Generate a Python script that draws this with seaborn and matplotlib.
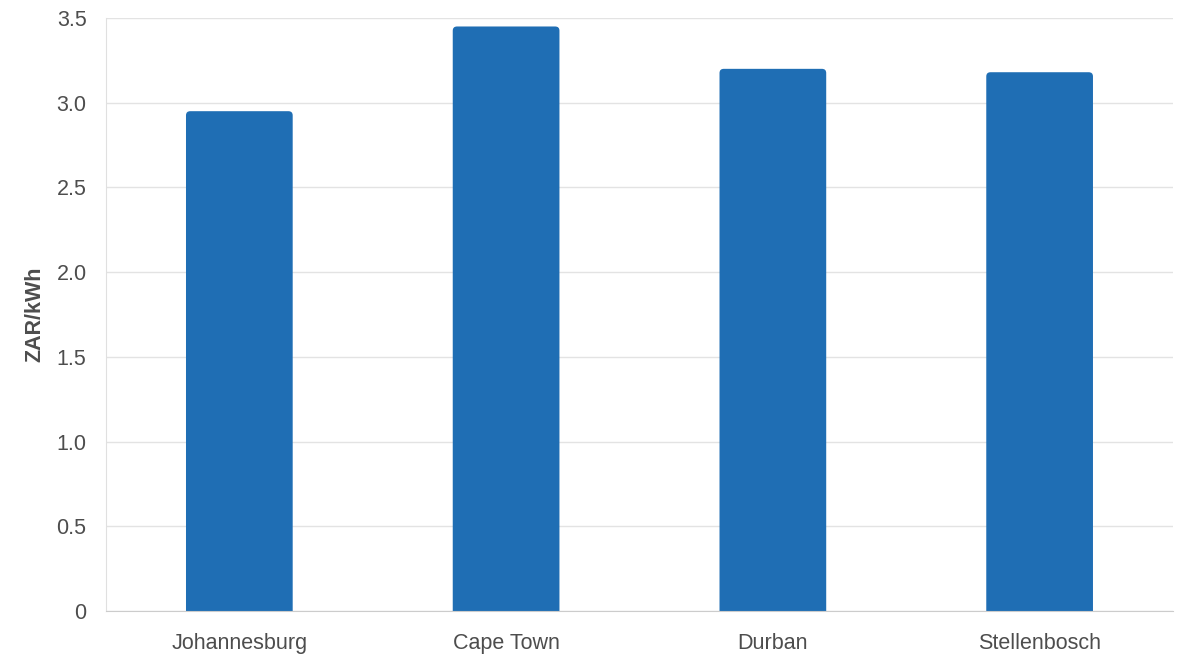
import matplotlib
matplotlib.use("Agg")
import matplotlib.pyplot as plt
import seaborn as sns
import pandas as pd
from matplotlib.patches import FancyBboxPatch
from matplotlib.ticker import FuncFormatter

# -----------------------------
# Data
# -----------------------------
cities = ["Johannesburg", "Cape Town", "Durban", "Stellenbosch"]
tariff = [2.95, 3.45, 3.20, 3.18]
y_ticks = [0, 0.5, 1.0, 1.5, 2.0, 2.5, 3.0, 3.5]

df = pd.DataFrame({"City": cities, "ZAR/kWh": tariff})

# -----------------------------
# Style
# -----------------------------
sns.set_style("white")
plt.rcParams["font.family"] = ["Liberation Sans", "DejaVu Sans"]
text_col = "#4d4d4d"
bar_col = "#1f6eb4"

fig = plt.figure(figsize=(12, 6.67), dpi=100)
ax = fig.add_axes([0.0883, 0.084, 0.8892, 0.889])

sns.barplot(data=df, x="City", y="ZAR/kWh", color=bar_col, width=0.4,
            saturation=1, ax=ax, zorder=3)

# round the top corners of the bars
ax.set_xlim(-0.5, 3.5)
ax.set_ylim(0, 3.5)
for p in list(ax.patches):
    x, w, h = p.get_x(), p.get_width(), p.get_height()
    p.remove()
    rb = FancyBboxPatch((x, -0.05), w, h + 0.05,
                        boxstyle="round,pad=0,rounding_size=0.016",
                        mutation_aspect=1.55, facecolor=bar_col,
                        edgecolor="none", zorder=3, clip_on=True)
    ax.add_patch(rb)

ax.set_yticks(y_ticks)
ax.yaxis.set_major_formatter(FuncFormatter(lambda v, _: "0" if v == 0 else f"{v:.1f}"))
ax.yaxis.grid(True, color="#e3e3e3", linewidth=1)
ax.set_axisbelow(True)

ax.tick_params(axis="y", length=8, width=1, color="#d6d6d6", labelsize=15.5,
               labelcolor=text_col, pad=6)
ax.tick_params(axis="x", length=0, labelsize=15.5, labelcolor=text_col, pad=16)

ax.set_xlabel("")
ax.set_ylabel("ZAR/kWh", fontsize=15.5, fontweight="bold", color=text_col, labelpad=8)

for s in ["top", "right"]:
    ax.spines[s].set_visible(False)
ax.spines["left"].set_color("#e0e0e0")
ax.spines["bottom"].set_color("#cccccc")
ax.spines["bottom"].set_zorder(4)

fig.savefig("out.png", dpi=100)
